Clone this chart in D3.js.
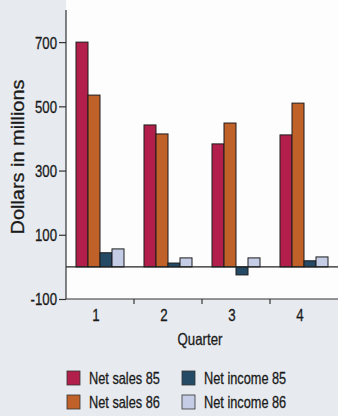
<!DOCTYPE html>
<html><head><meta charset="utf-8">
<script src="https://cdn.jsdelivr.net/npm/d3@7"></script>
<style>
html,body{margin:0;padding:0;background:#e7eaef;}
svg{display:block;}
text{font-family:"Liberation Sans",Arial,sans-serif;fill:#1a1a1a;stroke:#1a1a1a;stroke-width:0.3px;}
</style></head><body>
<svg id="chart" width="338" height="416"></svg>
<script>
const quarters = ["1","2","3","4"];
const seriesNames = ["Net sales 85","Net sales 86","Net income 85","Net income 86"];
const netSales85 = [700, 442, 383, 411];
const netSales86 = [535, 414, 448, 510];
const netIncome85 = [44, 12, -25, 19];
const netIncome86 = [56, 28, 28, 31];
const yTicks = [700, 500, 300, 100, -100];
const colors = ["#b21f4b","#bf6129","#244a66","#c5cde6"];

(function(){
const seriesValues = [netSales85, netSales86, netIncome85, netIncome86];
const svg = d3.select("#chart");
const pl = 66, pr = 338, pt = 10, pb = 299;

function narrow(sel, f) {
  sel.each(function(){
    const w = this.getComputedTextLength();
    this.setAttribute("textLength", (w * f).toFixed(1));
    this.setAttribute("lengthAdjust", "spacingAndGlyphs");
  });
}

svg.append("rect").attr("x", pl).attr("y", 0).attr("width", pr-pl).attr("height", pb).attr("fill", "#fdfdfd");

const y = d3.scaleLinear().domain([-100, 800]).range([pb, pt]);
const x0 = d3.scaleBand().domain(quarters).range([pl, pr]);
const x1 = d3.scaleBand().domain(seriesNames).range([10, 58]);

const g = svg.append("g");
quarters.forEach((q, qi) => {
  seriesNames.forEach((s, si) => {
    const v = seriesValues[si][qi];
    g.append("rect")
      .attr("x", x0(q) + x1(s))
      .attr("y", y(Math.max(0, v)))
      .attr("width", x1.bandwidth())
      .attr("height", Math.abs(y(v) - y(0)))
      .attr("fill", colors[si])
      .attr("stroke", "#1c1c1c")
      .attr("stroke-width", 1);
  });
});

svg.append("line").attr("x1", pl).attr("x2", pr).attr("y1", y(0)).attr("y2", y(0))
  .attr("stroke", "#222").attr("stroke-width", 1.2);

const yAxis = svg.append("g").attr("transform", `translate(${pl},0)`)
  .call(d3.axisLeft(y).tickValues(yTicks).tickSize(7).tickPadding(2).tickFormat(d => String(d)));
yAxis.select(".domain").attr("d", `M0,${pt}V${pb}`).attr("stroke", "#333").attr("stroke-width", 1.2);
yAxis.selectAll(".tick line").attr("stroke", "#333").attr("stroke-width", 1.2);
const yt = yAxis.selectAll(".tick text").attr("font-size", 16.5).attr("fill", "#1a1a1a").attr("dy", "0.36em")
  .attr("font-family", null);
narrow(yt, 0.8);

const xAxis = svg.append("g").attr("transform", `translate(0,${pb})`)
  .call(d3.axisBottom(x0).tickSize(0));
xAxis.select(".domain").attr("d", `M${pl},0H${pr}`).attr("stroke", "#333").attr("stroke-width", 1.2);
const xt = xAxis.selectAll(".tick text").attr("font-size", 16.5).attr("y", 22).attr("dy", 0).attr("dx", -4)
  .attr("fill", "#1a1a1a").attr("font-family", null);
narrow(xt, 0.8);
quarters.slice(1).forEach(q => {
  xAxis.append("line").attr("x1", x0(q)).attr("x2", x0(q)).attr("y1", 0).attr("y2", 5)
    .attr("stroke", "#333").attr("stroke-width", 1.2);
});

const titleG = svg.append("g").attr("transform", `translate(24,157) rotate(-90)`);
const title = titleG.append("text").attr("x", 0).attr("y", 0)
  .attr("text-anchor", "middle").attr("font-size", 18.5)
  .text("Dollars in millions");
const tw = title.node().getComputedTextLength();
title.attr("transform", `scale(${(155 / tw).toFixed(3)},1)`);

const qt = svg.append("text").attr("x", 200).attr("y", 345).attr("text-anchor", "middle")
  .attr("font-size", 16.5).text("Quarter");
narrow(qt, 0.8);

const legendPos = [[67,371],[67,395],[182,371],[182,395]];
seriesNames.forEach((s, si) => {
  const [lx, ly] = legendPos[si];
  svg.append("rect").attr("x", lx).attr("y", ly).attr("width", 13).attr("height", 14)
    .attr("fill", colors[si]).attr("stroke", "#333").attr("stroke-width", 0.8);
  const t = svg.append("text").attr("x", lx + 22).attr("y", ly + 13).attr("font-size", 17).text(s);
  narrow(t, 0.75);
});
})();
</script>
</body></html>
